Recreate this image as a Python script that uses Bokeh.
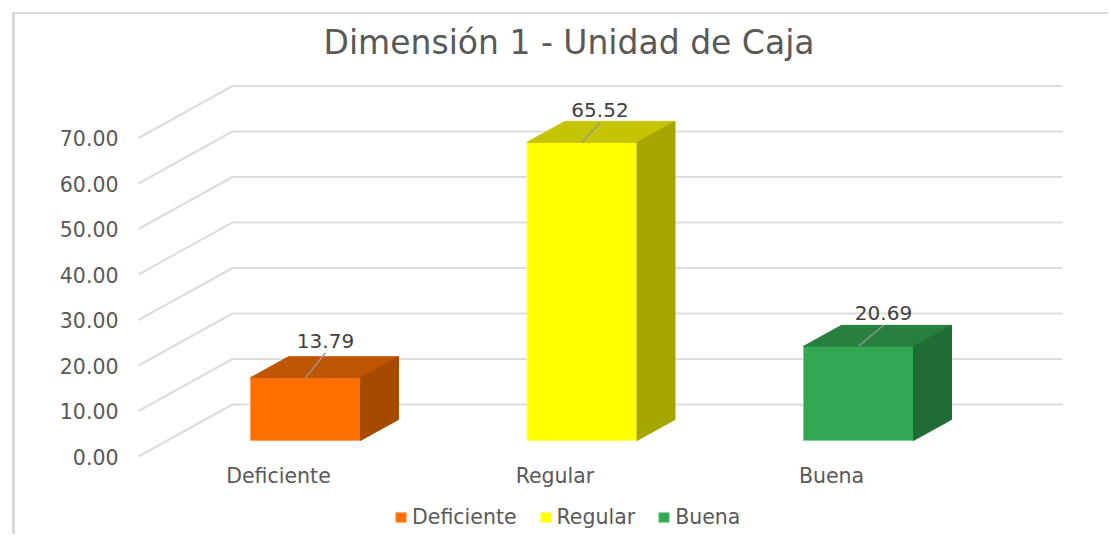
from bokeh.plotting import figure
from bokeh.embed import file_html
from bokeh.resources import INLINE
from bokeh.models import (Range1d, LinearAxis, FixedTicker, Legend, LegendItem,
                          NumeralTickFormatter)
from bokeh.core.properties import value

categories = ["Deficiente", "Regular", "Buena"]
values = [13.79, 65.52, 20.69]
y_ticks = [0, 10, 20, 30, 40, 50, 60, 70]
front_colors = ["#ff6f00", "#ffff00", "#33a853"]
top_colors = ["#c05500", "#c4c400", "#27803f"]
side_colors = ["#a54a00", "#a6a600", "#206c35"]
edge_colors = ["#ffa066", "#ffff66", "#7fd09a"]

FONT = "DejaVu Sans"
OX, OY = 12, 12               # page position of the figure
BL, BT = 3, 2                 # chart-area border widths
W, H = 1096, 522
FL, FR, FT, FB = 126, 1070, 66, 536   # frame edges on the page
PX_X, PX_Y = 276.5, 4.55      # pixels per category / per value unit
X0, Y0 = 305, 440             # first bar's centre, bar baseline
BAR_W = 110 / PX_X
DX, DY = 38 / PX_X, 21 / PX_Y  # bar depth
WALL_X0, WALL_X1, FLOOR_X = (232 - X0) / PX_X, (1062 - X0) / PX_X, (138 - X0) / PX_X
WALL_DY, FLOOR_DY = (440 - 404) / PX_Y, (440 - 456) / PX_Y

p = figure(width=W, height=H, output_backend="svg", toolbar_location=None,
           x_range=Range1d((FL - X0) / PX_X, (FR - X0) / PX_X),
           y_range=Range1d((Y0 - FB) / PX_Y, (Y0 - FT) / PX_Y),
           min_border_left=FL - OX - BL, min_border_right=OX + BL + W - FR,
           min_border_top=FT - OY - BT, min_border_bottom=OY + BT + H - FB,
           x_axis_type=None, y_axis_type=None)
p.margin = (OY, 0, 0, OX)
p.styles = {"border-left": f"{BL}px solid #d9d9d9", "border-top": f"{BT}px solid #d9d9d9", "box-sizing": "border-box"}
p.outline_line_color = None
p.grid.visible = False

p.title.text = "Dimensión 1 - Unidad de Caja"
p.title.text_font = FONT
p.title.text_font_size = "33px"
p.title.text_font_style = "normal"
p.title.text_color = "#595959"
p.title.align = "left"
p.title.offset = 197

p.extra_y_ranges["axis"] = Range1d((456 - FB) / PX_Y, (456 - FT) / PX_Y)
p.extra_x_ranges["axis"] = Range1d((FL - 278) / PX_X, (FR - 278) / PX_X)
ya = LinearAxis(y_range_name="axis", ticker=FixedTicker(ticks=y_ticks),
                formatter=NumeralTickFormatter(format="0.00"))
xa = LinearAxis(x_range_name="axis", ticker=FixedTicker(ticks=list(range(len(categories)))),
                major_label_overrides={i: c for i, c in enumerate(categories)},
                fixed_location=(Y0 - 453) / PX_Y)
for a in (ya, xa):
    a.axis_line_color = None
    a.major_tick_line_color = None
    a.minor_tick_line_color = None
    a.major_label_text_font = FONT
    a.major_label_text_color = "#595959"
ya.major_label_text_font_size = "20.5px"
xa.major_label_text_font_size = "20.5px"
ya.major_label_standoff = 2
xa.major_label_standoff = 4
p.add_layout(ya, "left")
p.add_layout(xa, "below")

grid_x = [[FLOOR_X, WALL_X0, WALL_X1] for _ in y_ticks]
grid_y = [[t + FLOOR_DY, t + WALL_DY, t + WALL_DY] for t in y_ticks]
p.multi_line(grid_x, grid_y, line_color="#dddddd", line_width=2)

xs = list(range(len(categories)))
renderers = []
for i, (c, v) in enumerate(zip(categories, values)):
    l, r = i - BAR_W / 2, i + BAR_W / 2
    rd = p.quad(left=[l], right=[r], bottom=[0], top=[v], fill_color=front_colors[i], line_color=edge_colors[i], line_width=1)
    renderers.append(rd)
    p.patch([l, r, r + DX, l + DX], [v, v, v + DY, v + DY], fill_color=top_colors[i], line_color=top_colors[i], line_width=1)
    p.patch([r, r + DX, r + DX, r], [0, DY, v + DY, v], fill_color=side_colors[i], line_color=side_colors[i], line_width=1)

label_dx = [20 / PX_X, 18 / PX_X, 25 / PX_X]
label_dy = [37 / PX_Y, 32 / PX_Y, 33 / PX_Y]
leader_dy = [25 / PX_Y, 20 / PX_Y, 21 / PX_Y]
p.segment(x0=xs, y0=values, x1=[i + d for i, d in zip(xs, label_dx)],
          y1=[v + d for v, d in zip(values, leader_dy)], line_color="#999999", line_width=1.3)
p.text(x=[i + d for i, d in zip(xs, label_dx)], y=[v + d for v, d in zip(values, label_dy)],
       text=[f"{v:.2f}" for v in values], text_font=value(FONT), text_font_size="20px",
       text_color="#404040", text_align="center", text_baseline="middle")

legend = Legend(items=[LegendItem(label=c, renderers=[r]) for c, r in zip(categories, renderers)],
                orientation="horizontal", location=(268, 7), border_line_color=None,
                background_fill_alpha=0, glyph_width=13, glyph_height=12,
                label_text_font=FONT, label_text_font_size="20.5px", label_text_color="#595959",
                spacing=22, label_standoff=5, margin=0, padding=0)
p.add_layout(legend)

open("out.html", "w").write(file_html(p, INLINE))
